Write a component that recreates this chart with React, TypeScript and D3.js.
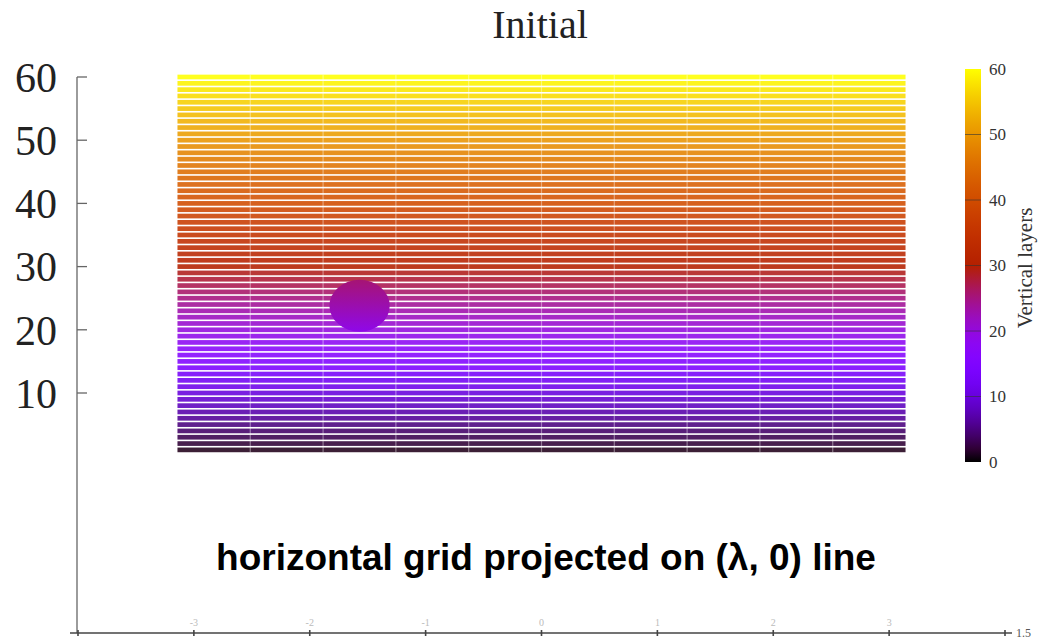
import React from "react";
import * as d3 from "d3";

// Model layers (1 = lowest, 60 = top) and longitude columns of the horizontal grid
const layers: number[] = d3.range(1, 61);
const columnEdges: number[] = d3.range(0, 11).map((i) => -Math.PI + (i * 2 * Math.PI) / 10);

// Left axis and colour bar ticks
const yTicks: number[] = [10, 20, 30, 40, 50, 60];
const barTicks: number[] = [0, 10, 20, 30, 40, 50, 60];

// Bottom (λ) axis ticks and labels
const xTicks: number[] = [-4, -3, -2, -1, 0, 1, 2, 3, 4];
const xTickLabels: number[] = [-3, -2, -1, 0, 1, 2, 3];

// Initial perturbation bubble: centre λ, centre level, radii
const bubble = { lambda: -1.57, level: 23.8, rLambda: 0.26, rLevel: 4.1, topLevel: 25.5, bottomLevel: 19 };

const W = 1039;
const H = 639;

// gnuplot-style default palette (rgbformulae 7,5,15)
function palette(t: number): string {
  const c = Math.max(0, Math.min(1, t));
  const r = Math.sqrt(c);
  const g = c * c * c;
  const b = Math.max(0, Math.sin(2 * Math.PI * c));
  return d3.rgb(r * 255, g * 255, b * 255).formatHex();
}

export default function App() {
  const x = d3.scaleLinear().domain([-4, 4]).range([78, 1005]);
  const y = d3.scaleLinear().domain([0, 60]).range([456.2, 77]);
  const yBar = d3.scaleLinear().domain([0, 60]).range([462, 69]);
  const color = d3.scaleSequential((t: number) => palette(t)).domain([0, 60]);
  const lineColor = (v: number) => d3.interpolateRgb(color(v), "#ffffff")(0.12);

  const stripeH = 4.7;
  const x0 = x(columnEdges[0]);
  const x1 = x(columnEdges[columnEdges.length - 1]);

  const barStops = d3.range(0, 61, 2);
  const axisY = 633;

  return (
    <svg width={W} height={H} style={{ display: "block", position: "absolute", left: 0, top: 0, background: "#fff" }}>
      <defs>
        <linearGradient id="barGrad" x1="0" y1="1" x2="0" y2="0">
          {barStops.map((v) => (
            <stop key={v} offset={`${(v / 60) * 100}%`} stopColor={color(v)} />
          ))}
        </linearGradient>
        <linearGradient id="bubbleGrad" x1="0" y1="0" x2="0" y2="1">
          <stop offset="0%" stopColor={color(bubble.topLevel)} />
          <stop offset="100%" stopColor={color(bubble.bottomLevel)} />
        </linearGradient>
      </defs>

      {/* title */}
      <text x={540} y={38} textAnchor="middle" fontFamily="'Liberation Serif', 'DejaVu Serif', serif" fontSize={40} fill="#222">
        Initial
      </text>

      {/* layer stripes */}
      <g>
        {layers.map((k) => (
          <rect key={k} x={x0} y={y(k) - stripeH / 2} width={x1 - x0} height={stripeH} fill={lineColor(k)} />
        ))}
        {columnEdges.slice(1, -1).map((e, i) => (
          <line key={i} x1={x(e)} x2={x(e)} y1={y(60) - stripeH / 2} y2={y(1) + stripeH / 2} stroke="#fff" strokeOpacity={0.4} strokeWidth={1.2} />
        ))}
        <ellipse
          cx={x(bubble.lambda)}
          cy={y(bubble.level)}
          rx={x(bubble.rLambda) - x(0)}
          ry={y(0) - y(bubble.rLevel)}
          fill="url(#bubbleGrad)"
        />
      </g>

      {/* left axis */}
      <g stroke="#666" strokeWidth={1.3}>
        <line x1={77} x2={77} y1={y(60)} y2={axisY} />
        {yTicks.map((v) => (
          <line key={v} x1={77} x2={87} y1={y(v)} y2={y(v)} />
        ))}
      </g>
      {yTicks.map((v) => (
        <text key={v} x={57} y={y(v)} dy="0.35em" textAnchor="end" fontFamily="'Liberation Serif', 'DejaVu Serif', serif" fontSize={42} fill="#222">
          {v}
        </text>
      ))}

      {/* bottom λ axis */}
      <g stroke="#444" strokeWidth={1.6}>
        <line x1={70} x2={1012} y1={axisY} y2={axisY} />
        {xTicks.map((v) => (
          <line key={v} x1={x(v)} x2={x(v)} y1={axisY - 3} y2={axisY + 3} />
        ))}
      </g>
      {xTickLabels.map((v) => (
        <text key={v} x={x(v)} y={axisY - 7} textAnchor="middle" fontFamily="'Liberation Serif', serif" fontSize={10} fill="#bbb">
          {v}
        </text>
      ))}
      <text x={1016} y={axisY + 4} fontFamily="'Liberation Serif', serif" fontSize={12} fill="#555">
        1.5
      </text>

      {/* colour bar */}
      <rect x={965} y={yBar(60)} width={16} height={yBar(0) - yBar(60)} fill="url(#barGrad)" />
      <g stroke="#333" strokeOpacity={0.6} strokeWidth={1}>
        {barTicks.slice(1, -1).map((v) => (
          <line key={v} x1={965} x2={981} y1={yBar(v)} y2={yBar(v)} />
        ))}
      </g>
      {barTicks.map((v) => (
        <text key={v} x={989} y={yBar(v)} dy="0.35em" fontFamily="'Liberation Serif', 'DejaVu Serif', serif" fontSize={17} fill="#333">
          {v}
        </text>
      ))}
      <text
        transform={`translate(1032, 268) rotate(-90)`}
        textAnchor="middle"
        fontFamily="'Liberation Serif', 'DejaVu Serif', serif"
        fontSize={21}
        fill="#333"
      >
        Vertical layers
      </text>

      {/* annotation */}
      <text x={546} y={570} textAnchor="middle" fontFamily="'Liberation Sans', Arial, sans-serif" fontWeight="bold" fontSize={37} fill="#000">
        horizontal grid projected on (λ, 0) line
      </text>
    </svg>
  );
}
